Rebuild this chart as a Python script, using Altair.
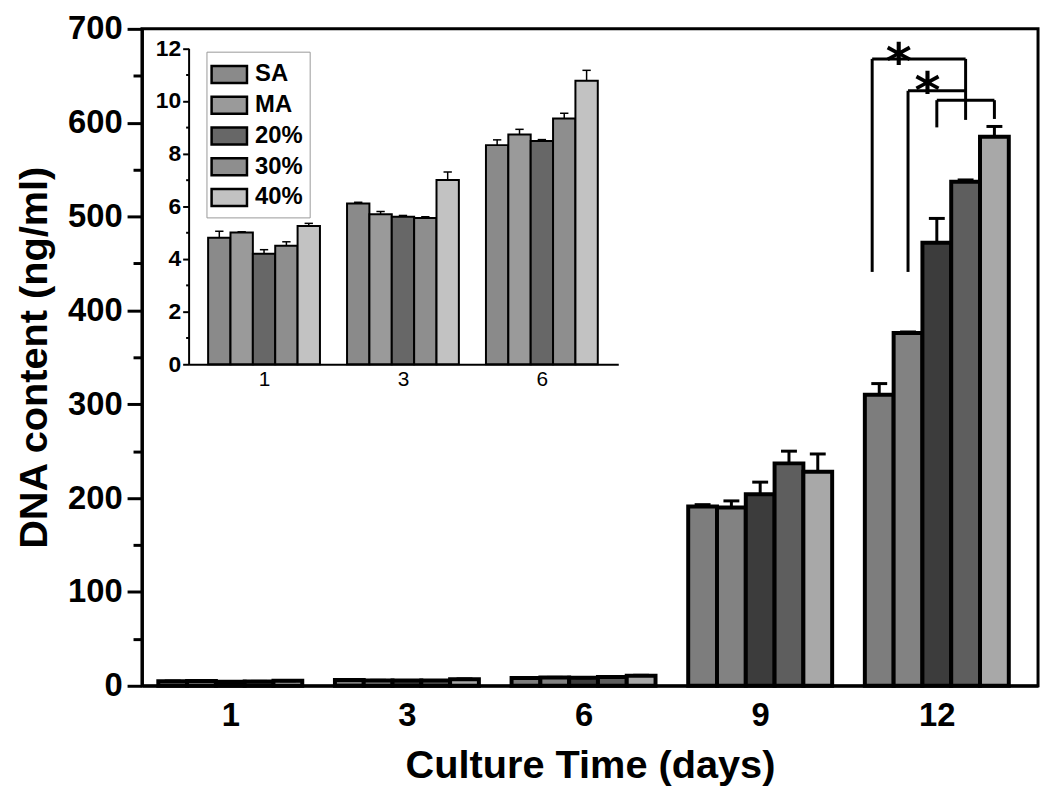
import json
import altair as alt
import pandas as pd

# ---------------- data ----------------
days = ["1", "3", "6", "9", "12"]
groups = ["SA", "MA", "20%", "30%", "40%"]

sa_mean = [4.8, 6.1, 8.32, 191, 310]
ma_mean = [5.0, 5.7, 8.72, 190, 376]
p20_mean = [4.2, 5.6, 8.48, 204, 472]
p30_mean = [4.5, 5.55, 9.33, 237, 537]
p40_mean = [5.25, 7.0, 10.76, 228, 585]

sa_err = [0.25, 0.05, 0.2, 2, 12]
ma_err = [0.03, 0.1, 0.2, 7, 1]
p20_err = [0.15, 0.05, 0.05, 13, 26]
p30_err = [0.15, 0.05, 0.2, 13, 2]
p40_err = [0.1, 0.3, 0.4, 19, 11]

inset_day_count = 3  # inset shows days 1, 3, 6

# significance brackets over day 12
br_left = ["SA", "MA", "20%"]
br_right = ["30%", "30%", "40%"]
br_top = [668, 634, 624]
br_left_low = [441, 441, 595]
br_right_low = [603, 634, 604]
star_y = [678, 647]

# ---------------- styles ----------------
FONT = "Liberation Sans"
main_fill = ["#7d7d7d", "#828282", "#3c3c3c", "#5e5e5e", "#a8a8a8"]
inset_fill = ["#8a8a8a", "#9a9a9a", "#676767", "#8e8e8e", "#c2c2c2"]
BW = 0.163   # bar width (main), in day-step units
BWI = 0.161  # bar width (inset)
H = 662      # plot height
TOP = 18     # top padding

means = [sa_mean, ma_mean, p20_mean, p30_mean, p40_mean]
errs = [sa_err, ma_err, p20_err, p30_err, p40_err]

rows = []
for j, g in enumerate(groups):
    for i, d in enumerate(days):
        rows.append(dict(day=d, di=i, series=g, si=j,
                         mean=means[j][i], err=errs[j][i]))
df = pd.DataFrame(rows)
df["top"] = df["mean"] + df["err"]
df["zero"] = 0.0
df_main = df.copy()
df_main["pos"] = df_main["di"] + (df_main["si"] - 2) * BW
df_main["xl"] = df_main["pos"] - BW / 2
df_main["xr"] = df_main["pos"] + BW / 2
df_main["cl"] = df_main["pos"] - 0.045
df_main["cr"] = df_main["pos"] + 0.045

df_in = df[df["di"] < inset_day_count].copy()
df_in["pos"] = df_in["di"] + (df_in["si"] - 2) * BWI
df_in["xl"] = df_in["pos"] - BWI / 2
df_in["xr"] = df_in["pos"] + BWI / 2
df_in["cl"] = df_in["pos"] - 0.03
df_in["cr"] = df_in["pos"] + 0.03


def bar_pos(series, day_index=4):
    return day_index + (groups.index(series) - 2) * BW


seg = []
for k in range(len(br_left)):
    xl = bar_pos(br_left[k]) - (0.04 if k == 0 else 0.0)
    xr = bar_pos(br_right[k])
    seg.append(dict(x=xl, x2=xl, y=br_left_low[k], y2=br_top[k]))
    seg.append(dict(x=xl, x2=xr, y=br_top[k], y2=br_top[k]))
    seg.append(dict(x=xr, x2=xr, y=br_right_low[k], y2=br_top[k]))
df_seg = pd.DataFrame(seg)
df_star = pd.DataFrame([dict(x=bar_pos(br_left[k]) + 0.11, y=star_y[k])
                        for k in range(len(star_y))])

# ---------------- main chart scales / axes ----------------
main_x_scale = alt.Scale(domain=[-0.5, 4.573], nice=False, zero=False)
main_y_scale = alt.Scale(domain=[0, 700], nice=False)
main_x_axis = alt.Axis(
    values=list(range(len(days))),
    labelExpr=f"{json.dumps(days)}[datum.value]",
    ticks=False, grid=False, domainWidth=3, domainColor="black",
    labelFont=FONT, labelFontSize=33, labelFontWeight="bold", labelColor="black",
    labelPadding=14,
    title="Culture Time (days)", titleFont=FONT, titleFontSize=40,
    titleFontWeight="bold", titleColor="black", titlePadding=13,
)
main_y_axis = alt.Axis(
    values=list(range(0, 701, 50)),
    labelExpr="datum.value % 100 === 0 ? datum.label : ''",
    tickSize={"condition": {"test": "datum.value % 100 === 0", "value": 15}, "value": 9},
    tickWidth=3, tickColor="black", grid=False, domainWidth=3, domainColor="black",
    labelFont=FONT, labelFontSize=33, labelFontWeight="bold", labelColor="black",
    labelPadding=5,
    title="DNA content (ng/ml)", titleFont=FONT, titleFontSize=40,
    titleFontWeight="bold", titleColor="black", titlePadding=13,
)


def mx(field):
    return alt.X(field, type="quantitative", scale=main_x_scale, axis=main_x_axis)


def my(field):
    return alt.Y(field, type="quantitative", scale=main_y_scale, axis=main_y_axis)


main_fill_enc = alt.Fill("series:N", scale=alt.Scale(domain=groups, range=main_fill),
                         legend=None)

mbase = alt.Chart(df_main)
m_bars = mbase.mark_bar(stroke="black", strokeWidth=4, opacity=1).encode(
    x=mx("xl"), x2="xr", y=my("mean"), y2="zero", fill=main_fill_enc)
m_err = mbase.mark_rule(color="black", strokeWidth=3).encode(
    x=mx("pos"), y=my("mean"), y2="top")
m_cap = mbase.mark_rule(color="black", strokeWidth=3).encode(
    x=mx("cl"), x2="cr", y=my("top"))
m_seg = alt.Chart(df_seg).mark_rule(color="black", strokeWidth=3).encode(
    x=mx("x"), x2="x2", y=my("y"), y2="y2")
m_star = alt.Chart(df_star).mark_text(
    text="*", font="DejaVu Sans", fontWeight="bold", fontSize=50, color="black",
    baseline="alphabetic", dy=30).encode(x=mx("x"), y=my("y"))

main = alt.layer(m_bars, m_err, m_cap, m_seg, m_star)

# ---------------- inset scales / axes ----------------
IN_Y0 = 364 - 8 - TOP   # inset zero line, in plot pixels
IN_Y12 = 45.5 - 8 - TOP
in_x_scale = alt.Scale(domain=[-0.543, 2.55], nice=False, zero=False, range=[47, 480])
in_y_scale = alt.Scale(domain=[0, 12], nice=False, range=[IN_Y0, IN_Y12])
in_x_axis = alt.Axis(
    orient="bottom", offset=-(H - IN_Y0),
    values=list(range(inset_day_count)),
    labelExpr=f"{json.dumps(days)}[datum.value]",
    ticks=False, grid=False, domainWidth=2, domainColor="black",
    labelFont=FONT, labelFontSize=21, labelColor="black", labelPadding=4,
    title=None,
)
in_y_axis = alt.Axis(
    orient="left", offset=-47,
    values=list(range(0, 13)),
    labelExpr="datum.value % 2 === 0 ? datum.label : ''",
    tickSize={"condition": {"test": "datum.value % 2 === 0", "value": 6}, "value": 3},
    tickWidth=2, tickColor="black", grid=False, domainWidth=2, domainColor="black",
    labelFont=FONT, labelFontSize=23, labelFontWeight="bold", labelColor="black",
    labelPadding=2, title=None,
)


def ix(field):
    return alt.X(field, type="quantitative", scale=in_x_scale, axis=in_x_axis)


def iy(field):
    return alt.Y(field, type="quantitative", scale=in_y_scale, axis=in_y_axis)


in_fill_enc = alt.Fill(
    "series:N", scale=alt.Scale(domain=groups, range=inset_fill),
    legend=alt.Legend(
        orient="none", legendX=65, legendY=49 - 8 - TOP, title=None,
        symbolType="M-1.15,-0.55H1.15V0.55H-1.15Z", symbolSize=961,
        symbolStrokeColor="black", symbolStrokeWidth=2.5, symbolOpacity=1,
        labelFont=FONT, labelFontSize=24, labelFontWeight="bold", labelColor="black",
        labelOffset=9, rowPadding=0, padding=6,
        strokeColor="#999999", fillColor="white",
    ),
)

ibase = alt.Chart(df_in)
i_bars = ibase.mark_bar(stroke="black", strokeWidth=2, opacity=1).encode(
    x=ix("xl"), x2="xr", y=iy("mean"), y2="zero", fill=in_fill_enc)
i_err = ibase.mark_rule(color="black", strokeWidth=1.5).encode(
    x=ix("pos"), y=iy("mean"), y2="top")
i_cap = ibase.mark_rule(color="black", strokeWidth=1.5).encode(
    x=ix("cl"), x2="cr", y=iy("top"))

inset = alt.layer(i_bars, i_err, i_cap)

chart = alt.layer(main, inset).resolve_scale(
    x="independent", y="independent", fill="independent"
).resolve_axis(x="independent", y="independent").properties(
    width=903, height=H,
    autosize=alt.AutoSizeParams(type="none"),
    padding={"left": 135, "top": TOP, "right": 4, "bottom": 100},
    background="white",
).configure_view(stroke="black", strokeWidth=3)

chart.save("out.html", embed_options={"renderer": "svg", "actions": False})
